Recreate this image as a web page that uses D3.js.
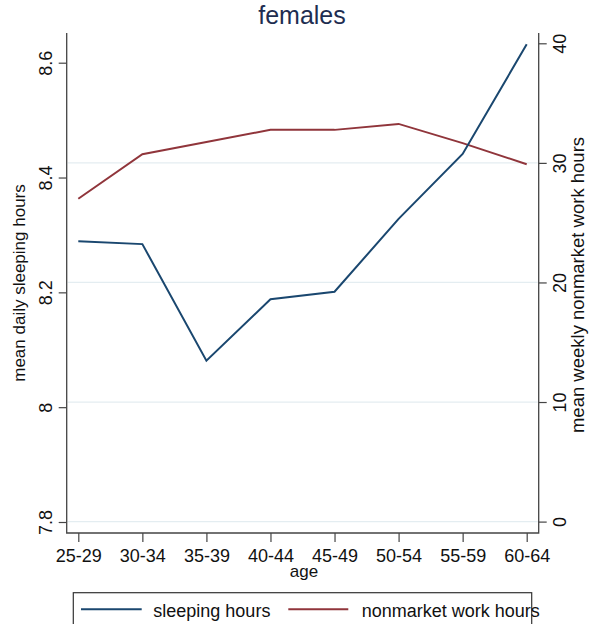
<!DOCTYPE html>
<html>
<head>
<meta charset="utf-8">
<script src="https://cdn.jsdelivr.net/npm/d3@7"></script>
<style>
  html, body { margin: 0; padding: 0; background: #fff; }
  svg { display: block; font-family: "Liberation Sans", Arial, sans-serif; }
</style>
</head>
<body>
<svg id="chart" width="592" height="624"></svg>
<script>
// Age groups on the x axis
const ageGroups = ["25-29", "30-34", "35-39", "40-44", "45-49", "50-54", "55-59", "60-64"];
// Mean daily sleeping hours (left axis)
const sleepingHours = [8.289, 8.284, 8.081, 8.188, 8.201, 8.328, 8.441, 8.632];
// Mean weekly nonmarket work hours (right axis)
const nonmarketHours = [27.0, 30.73, 31.75, 32.76, 32.76, 33.26, 31.65, 29.89];
// Tick values
const leftTicks = [7.8, 8, 8.2, 8.4, 8.6];
const rightTicks = [0, 10, 20, 30, 40];
const gridTicks = [0, 10, 20, 30];

const svg = d3.select("#chart");
const plot = { left: 66.7, right: 538.7, top: 33, bottom: 533 };
const fs = 18;
const navy = "#1a476f", maroon = "#90353b", axisCol = "#444";

const x = d3.scalePoint().domain(ageGroups).range([78.3, 526.7]);
const yL = d3.scaleLinear().domain([7.8, 8.6]).range([522, 62.7]);
const yR = d3.scaleLinear().domain([0, 40]).range([521.6, 43.3]);

// grid lines
svg.append("g").selectAll("line").data(gridTicks).join("line")
  .attr("x1", plot.left + 1).attr("x2", plot.right - 1)
  .attr("y1", d => yR(d)).attr("y2", d => yR(d))
  .attr("stroke", "#e4edf1").attr("stroke-width", 1.3);

// left axis
const gL = svg.append("g").attr("transform", `translate(${plot.left},0)`)
  .call(d3.axisLeft(yL).tickValues(leftTicks).tickSize(8).tickSizeOuter(0).tickFormat(d3.format("~g")));
gL.select(".domain").remove();
gL.selectAll(".tick line").attr("stroke", axisCol).attr("stroke-width", 1.2);
gL.selectAll(".tick text")
  .attr("x", 0).attr("y", 0).attr("dy", null)
  .attr("transform", "translate(-15,0) rotate(-90)")
  .attr("text-anchor", "middle")
  .attr("fill", "#111").style("font-size", fs + "px").style("font-family", "Liberation Sans, Arial, sans-serif");

// right axis
const gR = svg.append("g").attr("transform", `translate(${plot.right},0)`)
  .call(d3.axisRight(yR).tickValues(rightTicks).tickSize(8).tickSizeOuter(0));
gR.select(".domain").remove();
gR.selectAll(".tick line").attr("stroke", axisCol).attr("stroke-width", 1.2);
gR.selectAll(".tick text")
  .attr("x", 0).attr("y", 0).attr("dy", null)
  .attr("transform", "translate(27.5,0) rotate(-90)")
  .attr("text-anchor", "middle")
  .attr("fill", "#111").style("font-size", fs + "px").style("font-family", "Liberation Sans, Arial, sans-serif");

// bottom axis
const gB = svg.append("g").attr("transform", `translate(0,${plot.bottom})`)
  .call(d3.axisBottom(x).tickSize(9).tickSizeOuter(0));
gB.select(".domain").remove();
gB.selectAll(".tick line").attr("stroke", axisCol).attr("stroke-width", 1.2);
gB.selectAll(".tick text")
  .attr("y", 29).attr("dy", null)
  .attr("fill", "#111").style("font-size", fs + "px").style("font-family", "Liberation Sans, Arial, sans-serif");

// axis frame lines
svg.append("path")
  .attr("d", `M${plot.left},${plot.top}V${plot.bottom}H${plot.right}V${plot.top}`)
  .attr("fill", "none").attr("stroke", axisCol).attr("stroke-width", 1.3);

// series lines
const lineL = d3.line().x((d, i) => x(ageGroups[i])).y(d => yL(d));
const lineR = d3.line().x((d, i) => x(ageGroups[i])).y(d => yR(d));
svg.append("path").datum(nonmarketHours).attr("d", lineR)
  .attr("fill", "none").attr("stroke", maroon).attr("stroke-width", 2);
svg.append("path").datum(sleepingHours).attr("d", lineL)
  .attr("fill", "none").attr("stroke", navy).attr("stroke-width", 2);

// titles
svg.append("text").attr("x", 302).attr("y", 24).attr("text-anchor", "middle")
  .attr("fill", "#1e2d50").style("font-size", "25px").text("females");
svg.append("text").attr("x", 304).attr("y", 577).attr("text-anchor", "middle")
  .attr("fill", "#111").style("font-size", "17px").text("age");
svg.append("text").attr("transform", "translate(25,283) rotate(-90)").attr("text-anchor", "middle")
  .attr("fill", "#111").style("font-size", "17px").text("mean daily sleeping hours");
svg.append("text").attr("transform", "translate(584,285) rotate(-90)").attr("text-anchor", "middle")
  .attr("fill", "#111").style("font-size", "18.5px").text("mean weekly nonmarket work hours");

// legend
const leg = svg.append("g");
leg.append("rect").attr("x", 73.3).attr("y", 592.7).attr("width", 458.4).attr("height", 60)
  .attr("fill", "#fff").attr("stroke", "#333").attr("stroke-width", 1.2);
const legendItems = [
  { label: "sleeping hours", color: navy, x0: 81, x1: 141.7, tx: 153.3 },
  { label: "nonmarket work hours", color: maroon, x0: 288.3, x1: 348.3, tx: 361.7 }
];
legendItems.forEach(it => {
  leg.append("line").attr("x1", it.x0).attr("x2", it.x1).attr("y1", 609.3).attr("y2", 609.3)
    .attr("stroke", it.color).attr("stroke-width", 2);
  leg.append("text").attr("x", it.tx).attr("y", 616.5).attr("fill", "#111")
    .style("font-size", fs + "px").text(it.label);
});
</script>
</body>
</html>
